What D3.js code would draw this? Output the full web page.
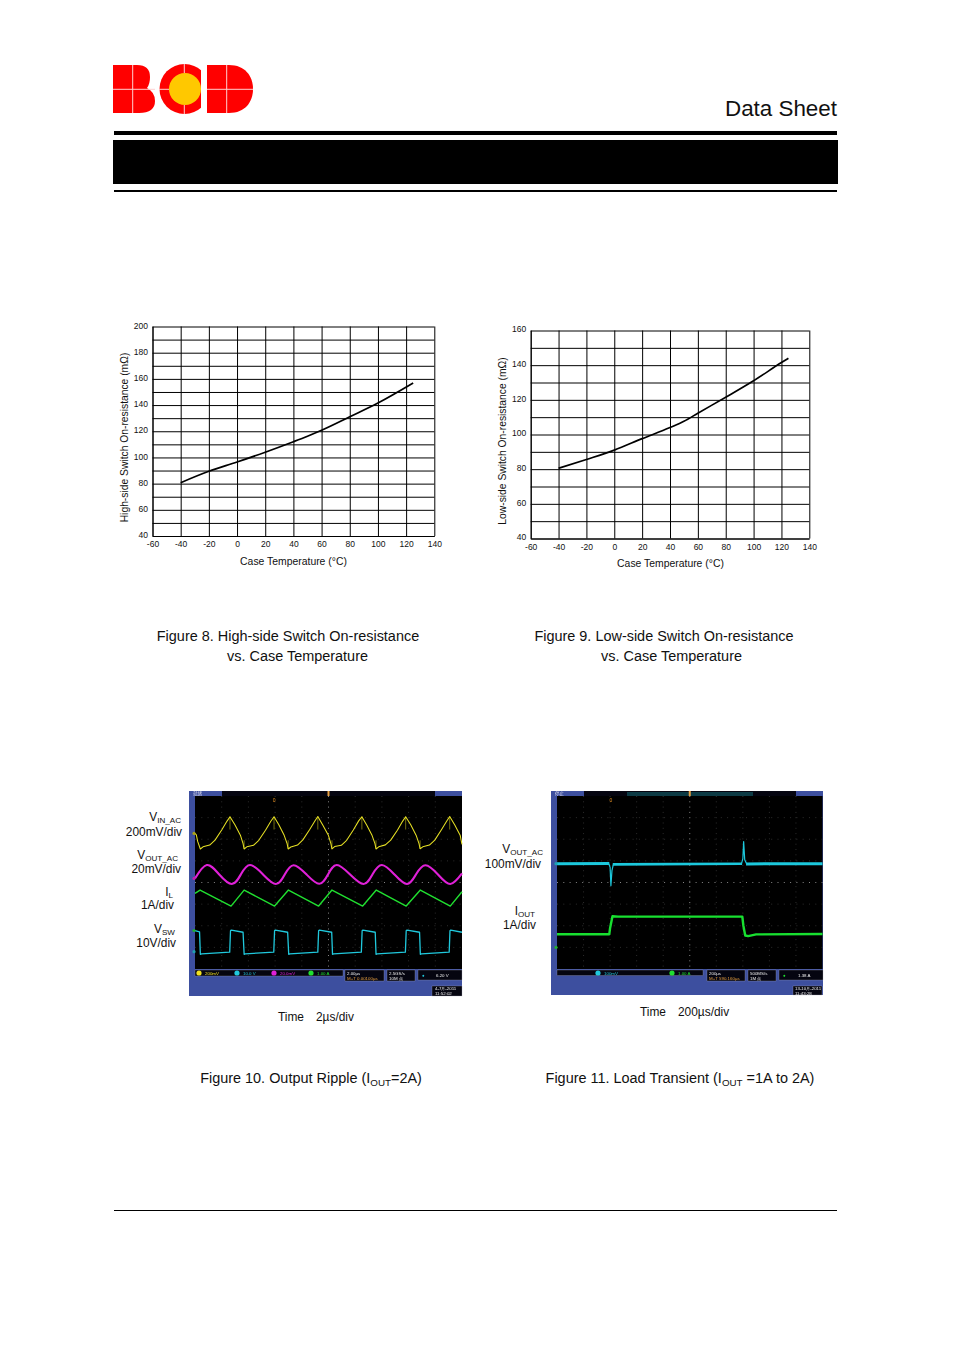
<!DOCTYPE html>
<html>
<head>
<meta charset="utf-8">
<script src="https://cdn.jsdelivr.net/npm/d3@7"></script>
<style>
html, body { margin: 0; padding: 0; background: #fff; }
svg { display: block; font-family: "Liberation Sans", Arial, sans-serif; }
.axis text { font-family: "Liberation Sans", Arial, sans-serif; font-size: 8.5px; fill: #111; }
.axis path, .axis line { stroke: #000; stroke-width: 1; }
</style>
</head>
<body>
<svg id="page" width="954" height="1350"></svg>
<script>
// Figure 8 / 9 curves
var tempTicks = [-60, -40, -20, 0, 20, 40, 60, 80, 100, 120, 140];
var highTemp = [-40, -20, 0, 20, 40, 50, 60, 80, 100, 125];
var highRes = [80.7, 89.4, 96.5, 104, 112, 116.2, 120.7, 131, 141.5, 156.8];
var lowTemp = [-40, -20, 0, 20, 40, 50, 60, 80, 100, 120, 125];
var lowRes = [80.5, 85.6, 91, 97.6, 104, 107.6, 112.3, 121.5, 131, 141.5, 144];

// Figure 10 scope traces, time in divisions (0-10), level in divisions from the top (0-8)
var yellowT = [0, 0.05, 0.1, 0.2, 0.3, 0.55, 0.75, 1.0, 1.2, 1.31, 1.5, 1.7, 1.8, 1.84,
  1.94, 2.19, 2.39, 2.64, 2.84, 2.96, 3.14, 3.34, 3.45, 3.49,
  3.59, 3.84, 4.04, 4.29, 4.49, 4.6, 4.79, 4.99, 5.09, 5.13,
  5.23, 5.48, 5.68, 5.93, 6.13, 6.25, 6.43, 6.63, 6.74, 6.78,
  6.88, 7.13, 7.33, 7.58, 7.78, 7.89, 8.08, 8.28, 8.39, 8.43,
  8.53, 8.78, 8.98, 9.23, 9.43, 9.54, 9.73, 9.93, 10];
var yellowV = [1.73, 1.8, 2.1, 2.45, 2.35, 2.27, 2.04, 1.57, 1.16, 0.96, 1.34, 1.81, 2.2, 2.45,
  2.35, 2.28, 2.05, 1.58, 1.17, 0.96, 1.33, 1.82, 2.2, 2.45,
  2.36, 2.27, 2.03, 1.56, 1.16, 0.95, 1.35, 1.8, 2.2, 2.45,
  2.34, 2.28, 2.05, 1.57, 1.15, 0.96, 1.34, 1.82, 2.2, 2.45,
  2.35, 2.26, 2.04, 1.58, 1.16, 0.96, 1.33, 1.81, 2.2, 2.44,
  2.35, 2.27, 2.04, 1.56, 1.16, 0.95, 1.34, 1.81, 2.24];
var yellowPeaks = [1.31, 2.96, 4.6, 6.25, 7.89, 9.54];
var yellowTroughs = [1.84, 3.49, 5.13, 6.78, 8.43];

var magentaT = [0, 0.44, 0.9, 1.38, 1.72, 2.06, 2.55, 3.03, 3.36, 3.69, 4.17, 4.65, 4.98, 5.31, 5.8, 6.31, 6.65, 7.0, 7.47, 7.94, 8.28, 8.63, 9.1, 9.56, 10];
var magentaV = [3.81, 3.19, 3.62, 4.07, 3.62, 3.19, 3.63, 4.07, 3.63, 3.2, 3.62, 4.06, 3.63, 3.19, 3.62, 4.07, 3.62, 3.19, 3.63, 4.07, 3.62, 3.2, 3.63, 4.07, 3.58];

var greenT = [0, 0.19, 1.35, 1.84, 2.98, 3.5, 4.63, 5.13, 6.28, 6.79, 7.91, 8.44, 9.56, 10];
var greenV = [4.5, 4.35, 5.09, 4.35, 5.09, 4.35, 5.09, 4.35, 5.09, 4.35, 5.09, 4.35, 5.09, 4.43];

var cyanT = [0, 0.17, 0.2, 0.25, 1.3, 1.33, 1.36, 1.8, 1.84, 1.88, 2.95, 2.98, 3.01, 3.47, 3.51, 3.55, 4.6, 4.63, 4.66, 5.12, 5.15, 5.19, 6.23, 6.26, 6.29, 6.75, 6.78, 6.82, 7.88, 7.91, 7.94, 8.41, 8.44, 8.48, 9.52, 9.55, 9.58, 10];
var cyanV = [6.22, 6.28, 7.32, 7.3, 7.22, 6.23, 6.2, 6.3, 7.32, 7.3, 7.22, 6.23, 6.2, 6.3, 7.32, 7.3, 7.22, 6.23, 6.2, 6.3, 7.32, 7.3, 7.22, 6.23, 6.2, 6.3, 7.32, 7.3, 7.22, 6.23, 6.2, 6.3, 7.32, 7.3, 7.22, 6.23, 6.2, 6.3];

// Figure 11 scope traces
var flatT = [[0, 1.97], [2.1, 6.97], [7.12, 10]];
var flatV = [[3.13, 3.12], [3.16, 3.13], [3.14, 3.13]];
var dipT = [1.95, 2.0, 2.03, 2.07, 2.12];
var dipV = [3.13, 3.3, 4.15, 3.45, 3.17];
var spikeT = [6.95, 7.0, 7.03, 7.07, 7.14];
var spikeV = [3.13, 2.9, 2.11, 2.95, 3.13];
var loadT = [0, 1.97, 2.0, 2.09, 2.3, 6.98, 7.02, 7.09, 7.2, 7.5, 10];
var loadV = [6.39, 6.39, 6.1, 5.56, 5.58, 5.58, 6.0, 6.45, 6.48, 6.4, 6.38];

var svg = d3.select("#page");

// small helper: text made of normal and subscript runs
function richText(g, x, y, size, anchor, runs) {
  var t = g.append("text").attr("x", x).attr("y", y)
    .attr("font-size", size).attr("text-anchor", anchor).attr("fill", "#111");
  var wasSub = false;
  runs.forEach(function(r) {
    var isSub = r.charAt(0) == "_";
    var s = t.append("tspan").text(isSub ? r.slice(1) : r);
    if (isSub) s.attr("font-size", size * 0.68).attr("dy", size * 0.2);
    else if (wasSub) s.attr("dy", -size * 0.2);
    wasSub = isSub;
  });
  return t;
}

/* page furniture */
var logo = svg.append("g").style("filter", "blur(0.3px)");
logo.append("clipPath").attr("id", "cclip").append("rect")
  .attr("x", 155).attr("y", 60).attr("width", 46).attr("height", 60);
logo.append("path").attr("fill", "#ff0000")
  .attr("d", "M113,65 H137 Q150,65 150,77 Q150,84 147,88 Q155,92 155,101 Q155,113 139,113 H113 Z");
logo.append("circle").attr("cx", 184.5).attr("cy", 89).attr("r", 25)
  .attr("fill", "#ff0000").attr("clip-path", "url(#cclip)");
logo.append("path").attr("fill", "#ff0000")
  .attr("d", "M207,65 H229 C245,65 253,76 253,89 C253,102 245,113 229,113 H207 Z");
logo.append("path").attr("fill", "none").attr("stroke", "#ffd0d0").attr("stroke-width", 1)
  .attr("d", "M132.7,65V113 M113,89.3H155 M184.3,64V73 M184.3,105V114 M159,89.3H169 M226.7,65V113 M207,89.3H253");
logo.append("circle").attr("cx", 185).attr("cy", 89).attr("r", 16).attr("fill", "#ffc800");

svg.append("text").attr("x", 837).attr("y", 116).attr("text-anchor", "end")
  .attr("font-size", 22.4).attr("fill", "#111").text("Data Sheet");
svg.append("rect").attr("x", 114).attr("y", 131).attr("width", 723).attr("height", 4);
svg.append("rect").attr("x", 113).attr("y", 140).attr("width", 725).attr("height", 44);
svg.append("rect").attr("x", 114).attr("y", 190).attr("width", 723).attr("height", 2);
svg.append("rect").attr("x", 114).attr("y", 1210).attr("width", 723).attr("height", 1);

/* temperature charts */
function tempChart(o) {
  var x = d3.scaleLinear().domain([-60, 140]).range([o.left, o.right]);
  var y = d3.scaleLinear().domain(o.yDomain).range([o.bottom, o.top]);
  var g = svg.append("g");

  var xAxis = d3.axisBottom(x).tickValues(tempTicks).tickSize(o.top - o.bottom).tickSizeOuter(0)
    .tickFormat(function(d) { return String(d); });
  var gx = g.append("g").attr("class", "axis").attr("transform", "translate(0," + o.bottom + ")").call(xAxis);
  gx.selectAll("text").attr("y", 5).attr("dy", "0.71em");

  var yAxis = d3.axisLeft(y).ticks((o.yDomain[1] - o.yDomain[0]) / 10)
    .tickSize(o.left - o.right).tickSizeOuter(0)
    .tickFormat(function(d) { return d % 20 == 0 ? d : ""; });
  var gy = g.append("g").attr("class", "axis").attr("transform", "translate(" + o.left + ",0)").call(yAxis);
  gy.selectAll("text").attr("x", -4.5).attr("y", o.labelShift);

  var line = d3.line().x(function(d) { return x(d[0]); }).y(function(d) { return y(d[1]); }).curve(d3.curveMonotoneX);
  g.append("path").attr("d", line(d3.zip(o.temps, o.values)))
    .attr("fill", "none").attr("stroke", "#000").attr("stroke-width", 1.7);

  g.append("text").attr("x", o.titleX).attr("y", o.titleY).attr("text-anchor", "middle")
    .attr("font-size", 10.4).attr("fill", "#111").text("Case Temperature (°C)");
  g.append("text").attr("transform", "translate(" + o.ylabX + "," + o.ylabY + ") rotate(-90)")
    .attr("text-anchor", "middle").attr("font-size", 10.3).attr("fill", "#111").text(o.ylabel);
}

tempChart({ left: 152.5, right: 434.3, top: 326.5, bottom: 536, labelShift: -1, yDomain: [40, 200],
  temps: highTemp, values: highRes, titleX: 293.5, titleY: 565,
  ylabX: 127.5, ylabY: 437.5, ylabel: "High-side Switch On-resistance (mΩ)" });
tempChart({ left: 530.7, right: 809.3, top: 330.5, bottom: 538.5, labelShift: -1.5, yDomain: [40, 160],
  temps: lowTemp, values: lowRes, titleX: 670.5, titleY: 567,
  ylabX: 505.5, ylabY: 441, ylabel: "Low-side Switch On-resistance (mΩ)" });

/* oscilloscope captures */
function scope(o) {
  var g = svg.append("g").style("filter", "blur(0.5px)");
  var panel = "#3d4f9f";
  g.append("rect").attr("x", o.panel[0]).attr("y", 791).attr("width", o.panel[1] - o.panel[0]).attr("height", o.panelBottom - 791).attr("fill", panel);
  g.append("rect").attr("x", o.barL).attr("y", 791).attr("width", o.barR - o.barL).attr("height", 5).attr("fill", "#050510");
  if (o.teal) g.append("rect").attr("x", o.teal[0]).attr("y", 792).attr("width", o.teal[1] - o.teal[0]).attr("height", 4).attr("fill", "#0c3a44");
  g.append("text").attr("x", o.panel[0] + 4).attr("y", 795).attr("font-size", 4.5).attr("fill", "#dde")
    .style("font-family", "'Noto Sans CJK SC'").text(o.state);

  var x = d3.scaleLinear().domain([0, 10]).range([o.left, o.right]);
  var y = d3.scaleLinear().domain([0, 8]).range([796, 969]);
  g.append("rect").attr("x", o.left).attr("y", 796).attr("width", o.right - o.left).attr("height", 173).attr("fill", "#000");

  // graticule
  d3.range(1, 10).forEach(function(d) {
    g.append("line").attr("x1", x(d)).attr("x2", x(d)).attr("y1", 796).attr("y2", 969)
      .attr("stroke", d == 5 ? "#a8a8a8" : "#4a4a4a").attr("stroke-width", d == 5 ? 0.8 : 0.6).attr("stroke-dasharray", "1 4.3");
  });
  d3.range(1, 8).forEach(function(d) {
    g.append("line").attr("x1", o.left).attr("x2", o.right).attr("y1", y(d)).attr("y2", y(d))
      .attr("stroke", d == 4 ? "#a8a8a8" : "#4a4a4a").attr("stroke-width", d == 4 ? 0.8 : 0.6).attr("stroke-dasharray", "1 5.3");
  });

  var line = d3.line().x(function(d) { return x(d[0]); }).y(function(d) { return y(d[1]); });
  o.traces.forEach(function(tr) {
    g.append("path").attr("d", line.curve(tr.curve || d3.curveLinear)(d3.zip(tr.t, tr.v)))
      .attr("fill", "none").attr("stroke", tr.color).attr("stroke-width", tr.width).attr("stroke-linejoin", "round");
  });
  (o.spikes || []).forEach(function(s) {
    g.append("line").attr("x1", x(s[0])).attr("x2", x(s[0])).attr("y1", y(s[1])).attr("y2", y(s[2]))
      .attr("stroke", s[3]).attr("stroke-width", 0.7).attr("opacity", 0.7);
  });

  // trigger markers and channel markers
  g.append("text").attr("x", x(o.trig)).attr("y", 801.5).attr("text-anchor", "middle").attr("font-size", 5).attr("fill", "#e89020").text("0");
  g.append("rect").attr("x", x(5) - 1).attr("y", 791).attr("width", 2).attr("height", 5).attr("fill", "#e8a040");
  o.marks.forEach(function(m) {
    g.append("circle").attr("cx", o.left - 1).attr("cy", y(m[0])).attr("r", 1.6).attr("fill", m[1]);
  });

  // status strip
  o.strip.forEach(function(b) {
    g.append("rect").attr("x", b[0]).attr("y", b[1]).attr("width", b[2] - b[0]).attr("height", b[3] - b[1])
      .attr("fill", "#050510").attr("stroke", "#aab").attr("stroke-width", 0.3);
  });
  o.chips.forEach(function(c) {
    g.append("circle").attr("cx", c[0]).attr("cy", 973).attr("r", 2.6).attr("fill", c[1]);
    g.append("text").attr("x", c[0] + 6).attr("y", 974.8).attr("font-size", 4.4).attr("fill", c[1]).text(c[2]);
  });
  o.notes.forEach(function(n) {
    g.append("text").attr("x", n[0]).attr("y", n[1]).attr("font-size", 4.4).attr("fill", n[2]).text(n[3]);
  });
}

var fig10Spikes = yellowPeaks.map(function(t) { return [t, 0.96, 1.55, "#e8e020"]; })
  .concat(yellowTroughs.map(function(t) { return [t, 2.45, 2.05, "#e8e020"]; }));

scope({
  panel: [189, 462], panelBottom: 996, barL: 222, barR: 435, left: 195, right: 462, trig: 2.96, state: "就绪",
  traces: [
    { t: yellowT, v: yellowV, color: "#e6e024", width: 1.05 },
    { t: magentaT, v: magentaV, color: "#e020d8", width: 2.1, curve: d3.curveNatural },
    { t: greenT, v: greenV, color: "#20e030", width: 1.4 },
    { t: cyanT, v: cyanV, color: "#20c8dc", width: 1.3 }
  ],
  spikes: fig10Spikes,
  marks: [[1.73, "#a8a020"], [3.81, "#c020b0"], [6.22, "#20b030"], [7.2, "#20a0b0"]],
  strip: [[195, 970, 343, 976], [345, 970, 384, 981], [387, 970, 415, 981], [418, 970, 462, 980], [432, 986, 462, 996]],
  chips: [[199, "#f0e020", "200mV"], [237, "#20c8dc", "10.0 V"], [274, "#e020d8", "20.0mV"], [311, "#20e030", "1.00 A"]],
  notes: [[347, 974.5, "#eee", "2.00µs"], [347, 979.5, "#e8a040", "M+T 0.00100µs"], [389, 974.5, "#eee", "2.5GS/s"], [389, 979.5, "#eee", "10M 点"],
    [422, 976.5, "#20c8dc", "●"], [436, 976.5, "#eee", "6.20 V"], [435, 990, "#eee", "4-7月-2011"], [435, 994.5, "#eee", "11:52:02"]]
});

scope({
  panel: [551, 823], panelBottom: 995, barL: 584, barR: 796, left: 557, right: 822.5, trig: 2.03, state: "停止", teal: [627, 753],
  traces: [
    { t: flatT[0], v: flatV[0], color: "#1cc8dc", width: 3 },
    { t: flatT[1], v: flatV[1], color: "#1cc8dc", width: 2.6 },
    { t: flatT[2], v: flatV[2], color: "#1cc8dc", width: 3 },
    { t: dipT, v: dipV, color: "#1cc8dc", width: 1.2 },
    { t: spikeT, v: spikeV, color: "#1cc8dc", width: 1.2 },
    { t: loadT, v: loadV, color: "#18e030", width: 2.4 }
  ],
  marks: [[3.13, "#20a0b0"], [7.0, "#20b030"]],
  strip: [[557, 970, 703, 975.5], [707, 970, 745, 981], [748, 970, 776, 981], [779, 970, 823, 980], [793, 986, 822, 995]],
  chips: [[598, "#20c8dc", "100mV"], [672, "#20e030", "1.00 A"]],
  notes: [[709, 974.5, "#eee", "200µs"], [709, 979.5, "#e8a040", "M+T 590.160µs"], [750, 974.5, "#eee", "500MS/s"], [750, 979.5, "#eee", "1M 点"],
    [783, 976.5, "#20e030", "●"], [798, 976.5, "#eee", "1.38 A"], [795, 990, "#eee", "13-10月-2011"], [795, 994.5, "#eee", "11:43:28"]]
});

/* side labels and captions */
var notes = svg.append("g");
richText(notes, 181, 821, 11.9, "end", ["V", "_IN_AC"]);
richText(notes, 182, 836, 11.9, "end", ["200mV/div"]);
richText(notes, 178, 859, 11.9, "end", ["V", "_OUT_AC"]);
richText(notes, 181, 873, 11.9, "end", ["20mV/div"]);
richText(notes, 173, 896, 11.9, "end", ["I", "_L"]);
richText(notes, 174, 909, 11.9, "end", ["1A/div"]);
richText(notes, 175, 933, 11.9, "end", ["V", "_SW"]);
richText(notes, 176, 947, 11.9, "end", ["10V/div"]);
richText(notes, 543, 853, 11.9, "end", ["V", "_OUT_AC"]);
richText(notes, 541, 868, 11.9, "end", ["100mV/div"]);
richText(notes, 535, 915, 11.9, "end", ["I", "_OUT"]);
richText(notes, 536, 929, 11.9, "end", ["1A/div"]);
richText(notes, 278, 1021, 11.9, "start", ["Time"]);
richText(notes, 316, 1021, 11.9, "start", ["2µs/div"]);
richText(notes, 640, 1016, 11.9, "start", ["Time"]);
richText(notes, 678, 1016, 11.9, "start", ["200µs/div"]);

richText(notes, 288, 641, 14.44, "middle", ["Figure 8. High-side Switch On-resistance"]);
richText(notes, 297.5, 661, 14.44, "middle", ["vs. Case Temperature"]);
richText(notes, 664, 641, 14.44, "middle", ["Figure 9. Low-side Switch On-resistance"]);
richText(notes, 671.5, 661, 14.44, "middle", ["vs. Case Temperature"]);
richText(notes, 311, 1083, 14.44, "middle", ["Figure 10. Output Ripple (I", "_OUT", "=2A)"]);
richText(notes, 680, 1083, 14.44, "middle", ["Figure 11. Load Transient (I", "_OUT", " =1A to 2A)"]);
</script>
</body>
</html>
